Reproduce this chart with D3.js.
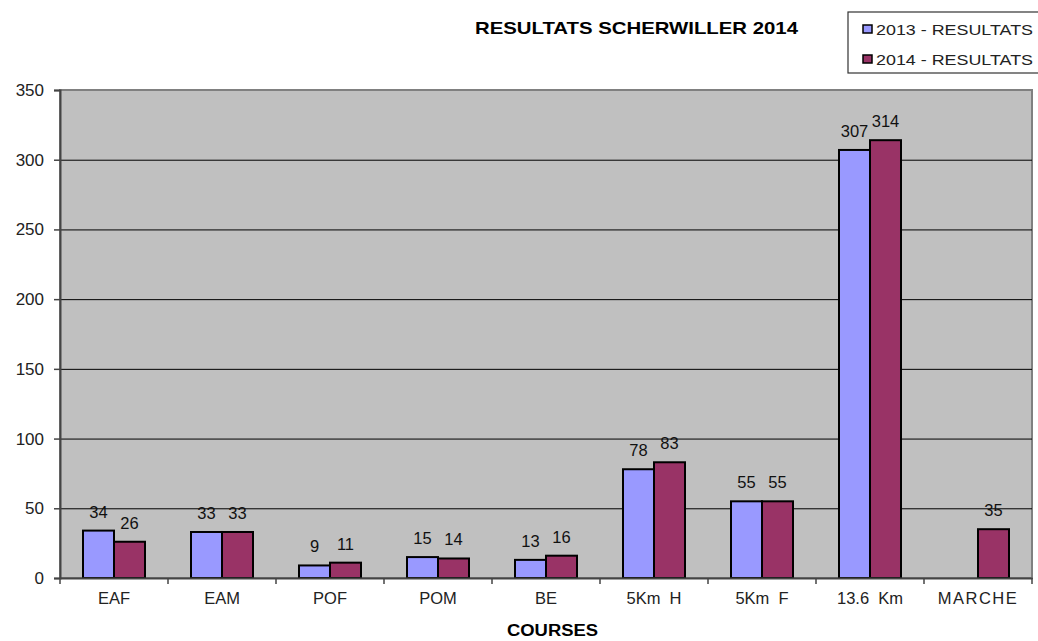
<!DOCTYPE html>
<html>
<head>
<meta charset="utf-8">
<script src="https://cdn.jsdelivr.net/npm/d3@7"></script>
<style>
	body { margin: 0; background: #fff; }
	svg { display: block; font-family: Arial, "Liberation Sans", sans-serif; }
</style>
</head>
<body>
<div id="chart"></div>
<script>
// data
var courses = ['EAF', 'EAM', 'POF', 'POM', 'BE', '5Km  H', '5Km  F', '13.6  Km', 'MARCHE'];
var results2013 = [34, 33, 9, 15, 13, 78, 55, 307, null];
var results2014 = [26, 33, 11, 14, 16, 83, 55, 314, 35];
var seriesNames = ['2013 - RESULTATS', '2014 - RESULTATS'];
var seriesColors = ['#9999ff', '#993366'];
var yTicks = [0, 50, 100, 150, 200, 250, 300, 350];

var width = 1038, height = 641;
var plot = {left: 60, top: 90, right: 1032, bottom: 578};

var svg = d3.select('#chart').append('svg')
	.attr('width', width)
	.attr('height', height);

var x = d3.scaleBand().domain(courses).range([plot.left, plot.right]);
var y = d3.scaleLinear().domain([0, 350]).range([plot.bottom, plot.top]);
var barw = 31;

// plot background
svg.append('rect')
	.attr('x', plot.left).attr('y', plot.top)
	.attr('width', plot.right - plot.left).attr('height', plot.bottom - plot.top)
	.attr('fill', '#c0c0c0')
	.attr('stroke', '#808080').attr('stroke-width', 2);

// gridlines
svg.append('g').selectAll('line')
	.data(yTicks.filter(function(d) { return d > 0 && d < 350; }))
	.enter().append('line')
	.attr('x1', plot.left).attr('x2', plot.right)
	.attr('y1', function(d) { return y(d) + 0.5; })
	.attr('y2', function(d) { return y(d) + 0.5; })
	.attr('stroke', '#000').attr('stroke-width', 1);

// bars
var series = [results2013, results2014];
series.forEach(function(vals, si) {
	var g = svg.append('g');
	var items = courses.map(function(c, i) { return {c: c, v: vals[i]}; })
		.filter(function(d) { return d.v != null; });
	g.selectAll('rect')
		.data(items)
		.enter().append('rect')
		.attr('x', function(d) { return x(d.c) + x.bandwidth() / 2 - barw + si * barw; })
		.attr('y', function(d) { return y(d.v); })
		.attr('width', barw)
		.attr('height', function(d) { return y(0) - y(d.v); })
		.attr('fill', seriesColors[si])
		.attr('stroke', '#000').attr('stroke-width', 2);
	g.selectAll('text')
		.data(items)
		.enter().append('text')
		.attr('x', function(d) { return x(d.c) + x.bandwidth() / 2 - barw / 2 + si * barw; })
		.attr('y', function(d) { return y(d.v) - 13; })
		.attr('text-anchor', 'middle')
		.attr('font-size', 16.5)
		.attr('fill', '#111')
		.text(function(d) { return d.v; });
});

// y axis
var yAxis = svg.append('g')
	.attr('transform', 'translate(' + plot.left + ',0)')
	.call(d3.axisLeft(y).tickValues(yTicks).tickSize(6).tickPadding(10));
yAxis.select('.domain').attr('stroke', '#444').attr('stroke-width', 2);
yAxis.selectAll('.tick line').attr('stroke', '#444').attr('stroke-width', 1.5);
yAxis.selectAll('text').attr('font-size', 17).attr('fill', '#222')
	.style('font-family', 'Arial, "Liberation Sans", sans-serif');

// x axis
var xAxis = svg.append('g')
	.attr('transform', 'translate(0,' + plot.bottom + ')')
	.call(d3.axisBottom(x).tickSize(0).tickPadding(14));
xAxis.select('.domain').attr('stroke', '#444').attr('stroke-width', 2);
xAxis.selectAll('text').attr('font-size', 16.5).attr('fill', '#222')
	.style('font-family', 'Arial, "Liberation Sans", sans-serif')
	.style('white-space', 'pre')
	.attr('letter-spacing', function(d) { return d === 'MARCHE' ? 1.5 : 0; });
xAxis.selectAll('.sep')
	.data(courses.slice(0).concat(['end']))
	.enter().append('line')
	.attr('class', 'sep')
	.attr('x1', function(d, i) { return plot.left + i * x.bandwidth(); })
	.attr('x2', function(d, i) { return plot.left + i * x.bandwidth(); })
	.attr('y1', 0).attr('y2', 6)
	.attr('stroke', '#444').attr('stroke-width', 1.5);

// title
svg.append('text')
	.attr('x', 475).attr('y', 34)
	.attr('font-size', 17).attr('font-weight', 'bold')
	.attr('textLength', 323).attr('lengthAdjust', 'spacingAndGlyphs')
	.text('RESULTATS SCHERWILLER 2014');

// x axis title
svg.append('text')
	.attr('x', 507).attr('y', 636)
	.attr('font-size', 16).attr('font-weight', 'bold')
	.attr('textLength', 91).attr('lengthAdjust', 'spacingAndGlyphs')
	.text('COURSES');

// legend
var legend = svg.append('g');
legend.append('rect')
	.attr('x', 848).attr('y', 12)
	.attr('width', 200).attr('height', 61)
	.attr('fill', '#fff').attr('stroke', '#333').attr('stroke-width', 1.2);
seriesNames.forEach(function(name, i) {
	var ly = 28 + i * 30;
	legend.append('rect')
		.attr('x', 863).attr('y', ly - 3)
		.attr('width', 9).attr('height', 8)
		.attr('fill', seriesColors[i]).attr('stroke', '#000').attr('stroke-width', 1.5);
	legend.append('text')
		.attr('x', 876).attr('y', ly + 7)
		.attr('font-size', 15.5).attr('fill', '#222')
		.attr('textLength', 157).attr('lengthAdjust', 'spacingAndGlyphs')
		.text(name);
});
</script>
</body>
</html>
